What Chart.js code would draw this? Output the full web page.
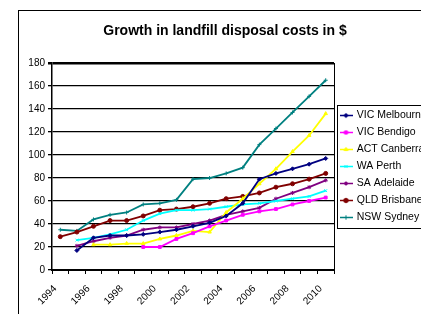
<!doctype html>
<html>
<head>
<meta charset="utf-8">
<title>Growth in landfill disposal costs in $</title>
<style>
  html, body { margin: 0; padding: 0; background: #fff; overflow: hidden; }
  /* outer chart frame, runs past the window on the right and bottom like the original */
  #frame { position: absolute; left: 18px; top: 10px; width: 430px; height: 330px; border: 1px solid #000; }
  #frame canvas { position: absolute; left: 0; top: 0; }
</style>
</head>
<body>
<div id="frame"><canvas id="landfill" width="412" height="303"></canvas></div>

<script src="https://cdn.jsdelivr.net/npm/chart.js"></script>
<script>
// ---- data ($ per tonne) ----
const years = ['1994', '1995', '1996', '1997', '1998', '1999', '2000', '2001', '2002',
               '2003', '2004', '2005', '2006', '2007', '2008', '2009', '2010'];

const vicMelbourne = [null, 17, 28, 30, 30, 31, 33, 35, 38, 41, 47, 58, 79, 84, 88, 92, 97];
const vicBendigo   = [null, null, null, null, null, 20, 20, 27, 32, 38, 43, 48, 51, 53, 57, 60, 63];
const actCanberra  = [null, null, 22, 22, 23, 23, 27, 30, 34, 33, 50, 62, 75, 88, 103, 117, 136];
const waPerth      = [null, 26, 28, 31, 35, 43, 49, 52, 52, 53, 55, 57, 58, 60, 62, 64, 69];
const saAdelaide   = [null, 21, 25, 28, 30, 35, 37, 37, 40, 43, 48, 51, 54, 62, 67, 72, 78];
const qldBrisbane  = [29, 33, 38, 43, 43, 47, 52, 53, 55, 58, 62, 64, 67, 72, 75, 79, 84];
const nswSydney    = [35, 34, 44, 48, 50, 57, 58, 61, 79, 80, 84, 89, 109, 123, 137, 151, 165];

const seriesNames  = ['VIC Melbourne', 'VIC Bendigo', 'ACT Canberra', 'WA Perth',
                      'SA Adelaide', 'QLD Brisbane', 'NSW Sydney'];
const seriesData   = [vicMelbourne, vicBendigo, actCanberra, waPerth, saAdelaide, qldBrisbane, nswSydney];

// old Excel palette + marker per series
const seriesColors  = ['#000080', '#ff00ff', '#ffff00', '#00ffff', '#800080', '#800000', '#008080'];
const seriesMarkers = ['rectRot', 'rect', 'triangle', 'crossRot', 'star', 'circle', 'cross'];

Chart.defaults.font.family = "'Liberation Sans', Arial, sans-serif";
Chart.defaults.color = '#000';

// small line-with-marker picture used as the legend key
function legendSample(color, marker) {
    const c = document.createElement('canvas');
    c.width = 13; c.height = 7;
    const g = c.getContext('2d');
    g.strokeStyle = color; g.fillStyle = color; g.lineWidth = 1.5;
    g.beginPath(); g.moveTo(0, 3.5); g.lineTo(13, 3.5); g.stroke();
    if (Chart.helpers && Chart.helpers.drawPoint) {
        g.lineWidth = 1;
        Chart.helpers.drawPoint(g, { pointStyle: marker, radius: 2.2, borderWidth: 1, rotation: 0 }, 6.5, 3.5);
    }
    return c;
}

const datasets = seriesNames.map((name, i) => ({
    label: name,
    data: seriesData[i],
    borderColor: seriesColors[i],
    backgroundColor: seriesColors[i],
    borderWidth: 1.8,
    pointStyle: seriesMarkers[i],
    pointRadius: 2,
    pointBorderWidth: 1,
    tension: 0
}));

// borders around the plot area (right side) and the legend
const frames = {
    id: 'frames',
    afterDraw(chart) {
        const ctx = chart.ctx, a = chart.chartArea, lg = chart.legend;
        ctx.save();
        ctx.strokeStyle = '#000';
        ctx.lineWidth = 1;
        ctx.beginPath();
        ctx.moveTo(Math.round(a.right) + 0.5, a.top);
        ctx.lineTo(Math.round(a.right) + 0.5, a.bottom);
        ctx.stroke();
        const hb = lg && lg.legendHitBoxes;
        if (hb && hb.length) {
            const last = hb[hb.length - 1];
            const top = Math.round(hb[0].top - 5) + 0.5;
            const bottom = Math.round(last.top + last.height + 5) + 0.5;
            ctx.strokeRect(Math.round(lg.left) + 3.5, top, chart.width, bottom - top);
        }
        ctx.restore();
    }
};

new Chart(document.getElementById('landfill'), {
    type: 'line',
    data: { labels: years, datasets: datasets },
    options: {
        responsive: false,
        animation: false,
        devicePixelRatio: 1,
        layout: { padding: 0 },
        plugins: {
            title: {
                display: true,
                text: 'Growth in landfill disposal costs in $',
                font: { size: 14, weight: 'bold' },
                color: '#000',
                padding: { top: 11.6, bottom: 23.6 }
            },
            legend: {
                position: 'right',
                fullSize: false,
                maxWidth: 97,
                labels: {
                    usePointStyle: true,
                    pointStyleWidth: 11,
                    padding: 6.5,
                    font: { size: 10.5 },
                    color: '#000',
                    generateLabels(chart) {
                        return chart.data.datasets.map((ds, i) => ({
                            text: ds.label,
                            pointStyle: legendSample(seriesColors[i], seriesMarkers[i]),
                            fillStyle: seriesColors[i],
                            strokeStyle: seriesColors[i],
                            lineWidth: 0,
                            hidden: false,
                            datasetIndex: i
                        }));
                    }
                }
            },
            tooltip: { enabled: false }
        },
        scales: {
            x: {
                offset: true,
                grid: { offset: true, drawOnChartArea: false, drawTicks: true, tickLength: 4, color: '#000' },
                border: { color: '#000', width: 2 },
                ticks: {
                    autoSkip: false,
                    maxRotation: 45,
                    minRotation: 45,
                    padding: 9,
                    labelOffset: -5,
                    font: { size: 10 },
                    callback(v, i) { return i % 2 === 0 ? this.getLabelForValue(v) : ''; }
                },
                afterFit(s) { s.height = 44; }
            },
            y: {
                min: 0,
                max: 180,
                grid: {
                    color: '#000',
                    tickLength: 4,
                    lineWidth: c => (c.tick && c.tick.value === 180 ? 2.5 : 1.3)
                },
                border: { color: '#000', width: 1.5 },
                ticks: { stepSize: 20, padding: 3, font: { size: 10 } },
                afterFit(s) { s.width = 33; }
            }
        }
    },
    plugins: [frames]
});
</script>
</body>
</html>
